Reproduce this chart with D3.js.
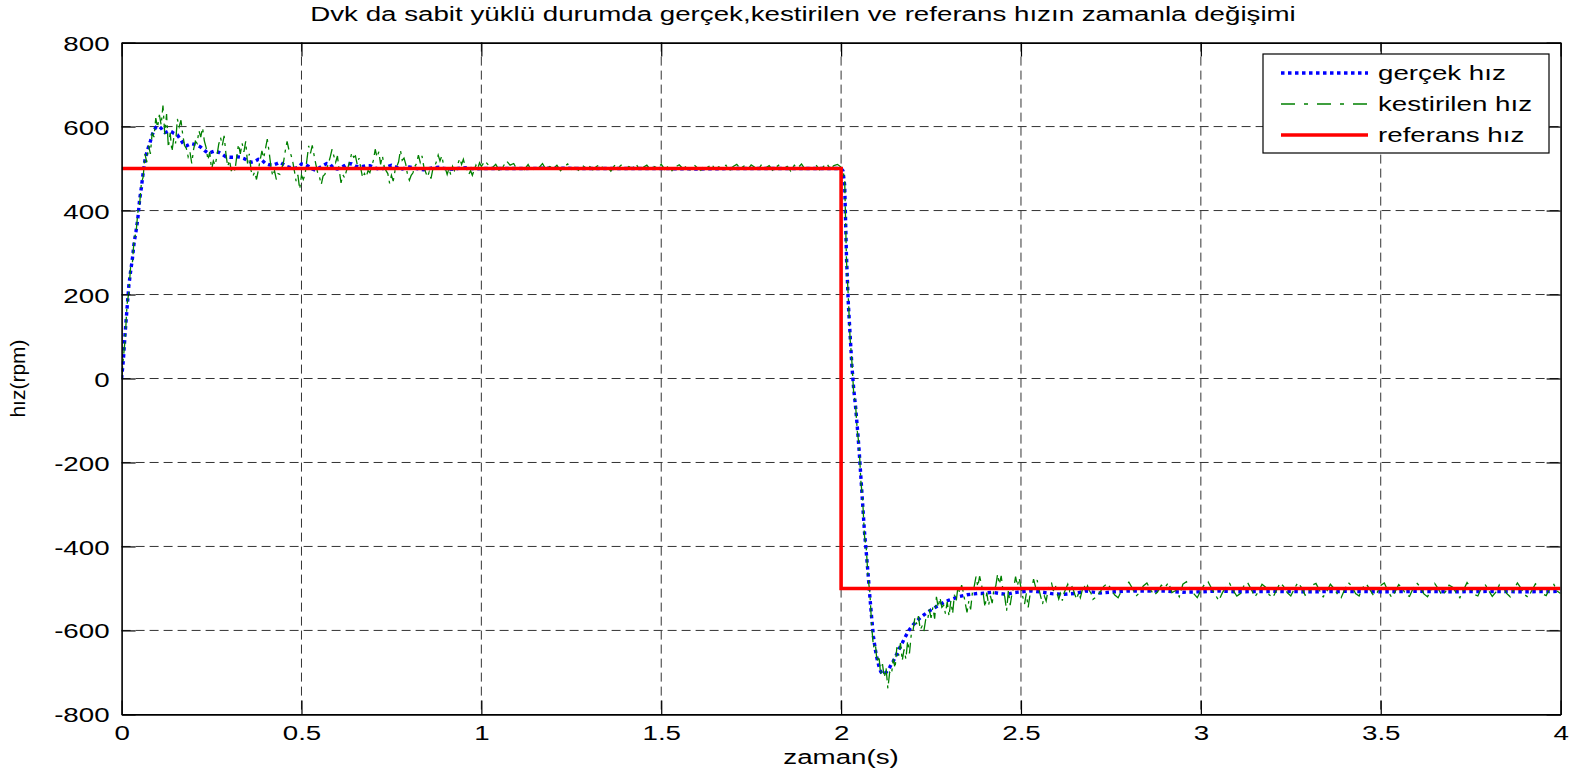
<!DOCTYPE html>
<html>
<head>
<meta charset="utf-8">
<script src="https://cdn.jsdelivr.net/npm/d3@7"></script>
<style>
    body { margin: 0; background: #fff; }
    svg { display: block; }
</style>
</head>
<body>
<div id="chart"></div>
<script>
// tick labels
var xTicks = [0, 0.5, 1, 1.5, 2, 2.5, 3, 3.5, 4];
var yTicks = [-800, -600, -400, -200, 0, 200, 400, 600, 800];

// referans hız
var refT = [0, 2, 2, 4];
var refV = [500, 500, -500, -500];

// gerçek hız
var blueT = [0, 0.005, 0.01, 0.015, 0.02, 0.025, 0.03, 0.035, 0.04, 0.045,
    0.05, 0.055, 0.06, 0.065, 0.07, 0.075, 0.08, 0.085, 0.09, 0.095,
    0.1, 0.105, 0.11, 0.115, 0.12, 0.125, 0.13, 0.135, 0.14, 0.145,
    0.15, 0.155, 0.16, 0.165, 0.17, 0.175, 0.18, 0.185, 0.19, 0.195, 0.2,
    0.21, 0.22, 0.23, 0.24, 0.25, 0.26, 0.27, 0.28, 0.29, 0.30,
    0.31, 0.32, 0.33, 0.34, 0.35, 0.36, 0.37, 0.38, 0.39, 0.40,
    0.41, 0.42, 0.43, 0.44, 0.45, 0.46, 0.47, 0.48, 0.49, 0.50,
    0.51, 0.52, 0.53, 0.54, 0.55, 0.56, 0.57, 0.58, 0.59, 0.60,
    0.61, 0.62, 0.63, 0.64, 0.65, 0.66, 0.67, 0.68, 0.69, 0.70,
    0.71, 0.72, 0.73, 0.74, 0.75, 0.76, 0.77, 0.78, 0.79, 0.80,
    0.82, 0.84, 0.86, 0.88, 0.90, 0.92, 0.94, 0.96, 0.98, 1.0,
    1.1, 1.2, 1.3, 1.4, 1.5, 1.6, 1.7, 1.8, 1.9, 2.0,
    2.005, 2.01, 2.015, 2.02, 2.025, 2.03, 2.035, 2.04, 2.045, 2.05,
    2.055, 2.06, 2.065, 2.07, 2.075, 2.08, 2.085, 2.09, 2.095, 2.10,
    2.105, 2.11, 2.115, 2.12, 2.125, 2.13, 2.135, 2.14, 2.145, 2.15,
    2.155, 2.16, 2.165, 2.17, 2.175, 2.18, 2.185, 2.19, 2.195, 2.20,
    2.21, 2.22, 2.23, 2.24, 2.25, 2.26, 2.27, 2.28, 2.29, 2.30,
    2.31, 2.32, 2.33, 2.34, 2.35, 2.36, 2.37, 2.38, 2.39, 2.40,
    2.42, 2.44, 2.46, 2.48, 2.50,
    2.53, 2.56, 2.59, 2.62, 2.65, 2.68, 2.72, 2.76, 2.80, 2.85, 2.90, 2.95, 3.0, 3.05, 3.1,
    3.2, 3.3, 3.4, 3.5, 3.6, 3.7, 3.8, 3.9, 4.0];
var blueV = [0, 45, 110, 165, 220, 255, 285, 325, 350, 380,
    425, 455, 490, 520, 538, 552, 565, 580, 591, 598,
    601, 600, 596, 590, 586, 587, 589, 589, 587, 584,
    582, 580, 574, 568, 561, 555, 554, 556, 558, 559, 558,
    556, 551, 543, 537, 539, 542, 539, 534, 528, 527,
    527, 528, 527, 524, 519, 515, 517, 522, 520, 512,
    509, 508, 511, 515, 510, 505, 502, 500, 503, 511,
    510, 505, 499, 496, 502, 507, 512, 510, 500, 499,
    503, 507, 512, 511, 506, 504, 505, 507, 507, 503,
    500, 498, 501, 505, 508, 505, 501, 499, 502, 504,
    500, 497, 501, 503, 500, 498, 501, 502, 499, 500,
    500, 501, 500, 500, 500, 499, 500, 500, 500, 500,
    495, 460, 290, 180, 105, 30, -25, -65, -115, -170,
    -235, -300, -365, -415, -465, -520, -570, -615, -645, -668,
    -685, -698, -704, -703, -700, -695, -688, -680, -673, -665,
    -656, -647, -638, -630, -621, -613, -605, -598, -592, -587,
    -578, -570, -563, -557, -551, -546, -541, -536, -531, -528,
    -525, -522, -519, -517, -515, -514, -513, -512, -512, -511,
    -509, -512, -514, -510, -508,
    -506, -509, -513, -514, -512, -506, -511, -508, -506, -506, -506, -509, -508, -506, -508,
    -507, -508, -507, -508, -507, -508, -507, -508, -507];

// kestirilen hız, sampled segments: 0..1 (0.005), 1.01..2 (0.01), 2.005..2.7 (0.005), 2.71..4 (0.01)
var greenA = [0, 50, 95, 175, 205, 265, 275, 335, 345, 395,
    415, 465, 480, 535, 515, 555, 535, 585, 575, 620,
    598, 628, 604, 650, 582, 630, 550, 585, 540, 573,
    560, 618, 600, 615, 580, 555, 548, 528, 540, 512,
    545, 565, 560, 590, 575, 597, 566, 550, 520, 540,
    497, 518, 508, 530, 558, 574, 555, 578, 535, 505,
    520, 494, 508, 495, 528, 558, 535, 560, 540, 565,
    512, 535, 495, 482, 492, 474, 496, 520, 542, 525,
    548, 570, 540, 505, 482, 495, 474, 488, 486, 500,
    515, 542, 565, 545, 535, 520, 496, 470, 485, 451,
    484, 474, 486, 520, 554, 536, 555, 532, 510, 490,
    480, 462, 482, 486, 500, 512, 528, 546, 530, 515,
    530, 495, 466, 485, 478, 495, 505, 520, 538, 527,
    530, 510, 525, 500, 478, 488, 480, 495, 490, 505,
    520, 546, 527, 540, 510, 530, 505, 495, 488, 465,
    484, 470, 495, 505, 516, 544, 520, 525, 510, 484,
    472, 484, 490, 505, 512, 532, 515, 530, 505, 492,
    480, 492, 476, 498, 505, 516, 532, 518, 530, 508,
    500, 486, 500, 485, 505, 495, 505, 512, 524, 510,
    522, 505, 498, 486, 495, 484, 496, 508, 500, 514,
    505];
var greenB = [518, 508, 502, 510, 495, 504, 518, 508, 512, 496,
    506, 498, 510, 494, 506, 502, 512, 497, 505, 500,
    508, 495, 504, 511, 498, 503, 496, 509, 501, 506,
    497, 505, 510, 499, 504, 494, 507, 502, 509, 498,
    505, 500, 511, 496, 503, 508, 497, 505, 501, 510,
    498, 506, 495, 504, 509, 500, 505, 497, 510, 502,
    496, 507, 503, 511, 498, 504, 499, 508, 495, 505,
    510, 500, 506, 497, 509, 503, 498, 511, 501, 507,
    496, 504, 510, 499, 505, 494, 508, 502, 511, 498,
    506, 500, 509, 497, 504, 512, 499, 507, 510, 503];
var greenC = [498, 470, 280, 195, 95, 40, -35, -60, -125, -160,
    -245, -290, -375, -405, -475, -510, -590, -640, -630, -675,
    -660, -705, -680, -712, -690, -738, -700, -705, -668, -690,
    -640, -660, -630, -672, -645, -668, -625, -655, -610, -600,
    -570, -585, -566, -598, -590, -602, -575, -578, -550, -570,
    -545, -572, -520, -545, -522, -545, -540, -560, -532, -566,
    -530, -560, -515, -530, -495, -512, -492, -510, -535, -557,
    -530, -550, -510, -495, -472, -496, -471, -490, -512, -545,
    -510, -540, -518, -535, -500, -494, -466, -490, -470, -505,
    -520, -553, -505, -540, -512, -498, -472, -494, -475, -498,
    -520, -537, -512, -545, -516, -500, -478, -495, -480, -502,
    -520, -537, -518, -530, -505, -490, -487, -506, -490, -510,
    -525, -512, -529, -510, -500, -490, -506, -492, -502, -515,
    -526, -510, -522, -505, -490, -506, -494, -505, -512, -526];
var greenD = [-520, -508, -495, -488, -500, -515, -522, -505, -498, -485,
    -500, -518, -510, -494, -487, -503, -516, -508, -492, -498,
    -486, -510, -505, -520, -490, -484, -502, -512, -522, -505,
    -490, -484, -500, -515, -529, -510, -496, -488, -505, -518,
    -512, -493, -486, -502, -520, -508, -490, -497, -515, -522,
    -505, -487, -495, -510, -518, -500, -486, -498, -516, -510,
    -492, -488, -505, -520, -507, -490, -500, -514, -522, -502,
    -486, -495, -512, -518, -498, -489, -503, -517, -510, -493,
    -487, -506, -521, -508, -491, -499, -515, -519, -500, -487,
    -496, -513, -520, -503, -488, -501, -516, -508, -492, -497,
    -511, -522, -504, -486, -498, -514, -518, -499, -490, -505,
    -519, -509, -491, -494, -512, -520, -502, -487, -500, -515,
    -521, -505, -489, -497, -513, -517, -499, -488, -506, -512];

var legendLabels = ["gerçek hız", "kestirilen hız", "referans hız"];

var margin = {top: 42.6, left: 121.6, bottom: 63.6, right: 28.4},
    W = 1589,
    H = 778,
    width = W - margin.left - margin.right,
    height = H - margin.top - margin.bottom;

var SX = 1.32;   // the source picture is stretched sideways
var FONT = 21;

var svg = d3.select("#chart")
    .append("svg")
    .attr("width", W)
    .attr("height", H)
    .style("font-family", "'Liberation Sans', Arial, Helvetica, sans-serif");

var x = d3.scaleLinear().domain([0, 4]).range([margin.left, margin.left + width]);
var y = d3.scaleLinear().domain([-800, 800]).range([margin.top + height, margin.top]);

function pairs(ts, vs) {
    return ts.map(function(t, i) {
        return {t: t, v: vs[i]};
    });
}

function seg(t0, dt, vs) {
    return vs.map(function(v, i) {
        return {t: +(t0 + i * dt).toFixed(4), v: v};
    });
}

var refData = pairs(refT, refV);
var blueData = pairs(blueT, blueV);
var greenData = seg(0, 0.005, greenA)
    .concat(seg(1.01, 0.01, greenB))
    .concat(seg(2.005, 0.005, greenC))
    .concat(seg(2.71, 0.01, greenD));

// grid
var grid = svg.append("g").attr("stroke", "#333").attr("stroke-width", 1).attr("stroke-dasharray", "9,5");
grid.selectAll(".gx")
    .data(xTicks.slice(1, -1))
    .enter().append("line")
    .attr("x1", function(d) { return x(d); })
    .attr("x2", function(d) { return x(d); })
    .attr("y1", y(800))
    .attr("y2", y(-800));
grid.selectAll(".gy")
    .data(yTicks.slice(1, -1))
    .enter().append("line")
    .attr("x1", x(0))
    .attr("x2", x(4))
    .attr("y1", function(d) { return y(d); })
    .attr("y2", function(d) { return y(d); });

svg.append("clipPath").attr("id", "clip")
    .append("rect")
    .attr("x", x(0)).attr("y", y(800))
    .attr("width", width).attr("height", height);

var line = d3.line()
    .x(function(d) { return x(d.t); })
    .y(function(d) { return y(d.v); });

var plot = svg.append("g").attr("clip-path", "url(#clip)");

plot.append("path")
    .datum(blueData)
    .attr("d", line)
    .attr("fill", "none")
    .attr("stroke", "#0000ff")
    .attr("stroke-width", 3.4)
    .attr("stroke-dasharray", "3.5,3.5");

plot.append("path")
    .datum(greenData)
    .attr("d", line)
    .attr("fill", "none")
    .attr("stroke", "#008000")
    .attr("stroke-width", 1.3)
    .attr("stroke-dasharray", "12,5,3,5");

plot.append("path")
    .datum(refData)
    .attr("d", line)
    .attr("fill", "none")
    .attr("stroke", "#ff0000")
    .attr("stroke-width", 3.6);

// axes, ticks inside on all four sides
function fmt(d) { return String(d); }

var gB = svg.append("g")
    .attr("transform", "translate(0," + y(-800) + ")")
    .call(d3.axisBottom(x).tickValues(xTicks).tickSize(-14).tickSizeOuter(0).tickFormat(fmt));
var gL = svg.append("g")
    .attr("transform", "translate(" + x(0) + ",0)")
    .call(d3.axisLeft(y).tickValues(yTicks).tickSize(-14).tickSizeOuter(0).tickFormat(fmt));
var gT = svg.append("g")
    .attr("transform", "translate(0," + y(800) + ")")
    .call(d3.axisTop(x).tickValues(xTicks).tickSize(-14).tickSizeOuter(0).tickFormat(""));
var gR = svg.append("g")
    .attr("transform", "translate(" + x(4) + ",0)")
    .call(d3.axisRight(y).tickValues(yTicks).tickSize(-14).tickSizeOuter(0).tickFormat(""));

[gB, gL, gT, gR].forEach(function(g) {
    g.attr("font-size", FONT).attr("font-family", null);
    g.select(".domain").attr("stroke", "#000").attr("stroke-width", 1.6);
    g.selectAll(".tick line").attr("stroke", "#000").attr("stroke-width", 1.2);
});

gB.selectAll(".tick text")
    .attr("y", null)
    .attr("dy", null)
    .attr("fill", "#000")
    .attr("transform", "translate(0,26) scale(" + SX + ",1)");
gL.selectAll(".tick text")
    .attr("x", null)
    .attr("dy", "0.36em")
    .attr("fill", "#000")
    .attr("transform", "translate(-12,0) scale(" + SX + ",1)");

// title and axis labels
svg.append("text")
    .attr("transform", "translate(" + 803 + ",21) scale(" + SX + ",1)")
    .attr("text-anchor", "middle")
    .attr("font-size", FONT)
    .text("Dvk da sabit yüklü durumda gerçek,kestirilen ve referans hızın zamanla değişimi");

svg.append("text")
    .attr("transform", "translate(" + x(2) + ",764) scale(" + SX + ",1)")
    .attr("text-anchor", "middle")
    .attr("font-size", FONT)
    .text("zaman(s)");

svg.append("text")
    .attr("transform", "translate(25," + y(0) + ") rotate(-90)")
    .attr("text-anchor", "middle")
    .attr("font-size", FONT)
    .text("hız(rpm)");

// legend
var lg = svg.append("g");
lg.append("rect")
    .attr("x", 1263).attr("y", 54)
    .attr("width", 286).attr("height", 99)
    .attr("fill", "#fff")
    .attr("stroke", "#000")
    .attr("stroke-width", 1.2);

var legendStyles = [
    {stroke: "#0000ff", w: 3.4, dash: "3.5,3.5"},
    {stroke: "#008000", w: 1.3, dash: "14,9,4,9"},
    {stroke: "#ff0000", w: 3.6, dash: null}
];

legendLabels.forEach(function(label, i) {
    var ry = 73 + i * 31;
    lg.append("line")
        .attr("x1", 1281).attr("x2", 1368)
        .attr("y1", ry).attr("y2", ry)
        .attr("stroke", legendStyles[i].stroke)
        .attr("stroke-width", legendStyles[i].w)
        .attr("stroke-dasharray", legendStyles[i].dash);
    lg.append("text")
        .attr("transform", "translate(1378," + (ry + 7) + ") scale(" + SX + ",1)")
        .attr("font-size", FONT)
        .text(label);
});
</script>
</body>
</html>
